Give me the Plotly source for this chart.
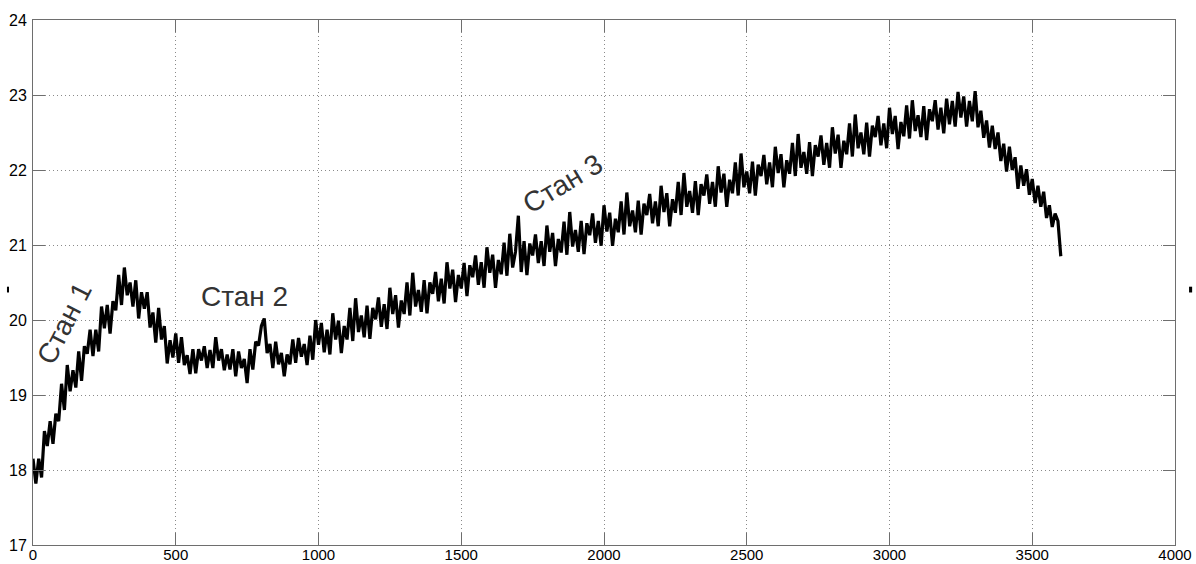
import plotly.graph_objects as go

# time axis (samples every 10 units)
TIME = list(range(0, 3610, 10))

# temperature readings
TEMP = [
    18.15, 17.82, 18.15, 17.90, 18.52, 18.32, 18.65, 18.35, 18.75, 18.65,
    19.15, 18.80, 19.40, 19.05, 19.33, 19.10, 19.58, 19.19, 19.65, 19.55,
    19.87, 19.52, 19.87, 19.58, 20.18, 19.89, 20.20, 19.82, 20.25, 20.13,
    20.60, 20.20, 20.70, 20.33, 20.50, 20.18, 20.53, 20.02, 20.37, 20.15,
    20.37, 19.90, 20.10, 19.70, 20.16, 19.74, 19.92, 19.42, 19.73, 19.50,
    19.82, 19.43, 19.77, 19.40, 19.53, 19.28, 19.61, 19.29, 19.61, 19.46,
    19.65, 19.36, 19.60, 19.36, 19.77, 19.46, 19.61, 19.33, 19.54, 19.34,
    19.61, 19.25, 19.58, 19.36, 19.48, 19.16, 19.61, 19.34, 19.71, 19.66,
    19.92, 20.02, 19.56, 19.68, 19.36, 19.71, 19.41, 19.56, 19.25, 19.54,
    19.41, 19.74, 19.43, 19.76, 19.51, 19.68, 19.40, 19.79, 19.47, 20.00,
    19.67, 19.96, 19.57, 19.87, 19.54, 20.09, 19.74, 19.99, 19.56, 19.92,
    19.74, 20.16, 19.72, 20.29, 19.84, 20.06, 19.77, 20.19, 19.75, 20.16,
    20.01, 20.30, 19.91, 20.21, 19.88, 20.43, 20.08, 20.33, 19.90, 20.26,
    20.08, 20.50, 20.06, 20.63, 20.18, 20.40, 20.11, 20.53, 20.09, 20.50,
    20.35, 20.64, 20.25, 20.55, 20.22, 20.77, 20.42, 20.67, 20.24, 20.60,
    20.42, 20.76, 20.32, 20.73, 20.57, 20.86, 20.47, 20.77, 20.43, 20.97,
    20.63, 20.87, 20.43, 20.80, 20.61, 21.03, 20.59, 21.15, 20.70, 20.91,
    21.39, 20.64, 21.05, 20.60, 21.02, 20.86, 21.14, 20.76, 21.05, 20.72,
    21.26, 20.91, 21.16, 20.72, 21.08, 20.90, 21.31, 20.87, 21.44, 20.98,
    21.20, 20.91, 21.32, 20.88, 21.29, 21.13, 21.42, 21.03, 21.32, 20.99,
    21.53, 21.18, 21.43, 20.99, 21.35, 21.17, 21.58, 21.14, 21.70, 21.25,
    21.46, 21.17, 21.59, 21.14, 21.55, 21.40, 21.68, 21.29, 21.58, 21.25,
    21.79, 21.44, 21.69, 21.25, 21.61, 21.43, 21.84, 21.40, 21.96, 21.51,
    21.72, 21.43, 21.85, 21.40, 21.81, 21.66, 21.94, 21.55, 21.84, 21.51,
    22.05, 21.70, 21.95, 21.51, 21.87, 21.69, 22.10, 21.66, 22.22, 21.77,
    21.98, 21.69, 22.11, 21.66, 22.07, 21.92, 22.20, 21.81, 22.10, 21.77,
    22.31, 21.96, 22.21, 21.77, 22.13, 21.95, 22.36, 21.92, 22.48, 22.03,
    22.24, 21.95, 22.37, 21.92, 22.33, 22.18, 22.46, 22.07, 22.36, 22.03,
    22.57, 22.22, 22.47, 22.03, 22.39, 22.21, 22.62, 22.18, 22.74, 22.29,
    22.50, 22.21, 22.63, 22.18, 22.59, 22.44, 22.72, 22.33, 22.62, 22.29,
    22.83, 22.48, 22.72, 22.28, 22.64, 22.45, 22.86, 22.42, 22.93, 22.52,
    22.73, 22.44, 22.85, 22.40, 22.81, 22.65, 22.93, 22.54, 22.83, 22.49,
    22.95, 22.61, 22.92, 22.58, 23.04, 22.70, 22.98, 22.58, 22.92, 22.65,
    23.05, 22.57, 22.79, 22.43, 22.66, 22.30, 22.59, 22.28, 22.50, 22.12,
    22.35, 21.98, 22.31, 22.00, 22.17, 21.75, 22.06, 21.79, 22.01, 21.67,
    21.88, 21.56, 21.79, 21.51, 21.71, 21.36, 21.53, 21.24, 21.42, 21.32,
    20.85,
]

X_TICKS = [0, 500, 1000, 1500, 2000, 2500, 3000, 3500, 4000]
Y_TICKS = [17, 18, 19, 20, 21, 22, 23, 24]

LABELS = ["Стан 1", "Стан 2", "Стан 3"]
LABEL_X = [110, 740, 1856]
LABEL_Y = [19.95, 20.31, 21.82]
LABEL_ANGLE = [-63, 0, -31]

fig = go.Figure()
fig.add_trace(go.Scatter(
    x=TIME, y=TEMP, mode="lines",
    line=dict(color="black", width=3.2),
    showlegend=False, hoverinfo="skip",
))

for t, lx, ly, a in zip(LABELS, LABEL_X, LABEL_Y, LABEL_ANGLE):
    fig.add_annotation(x=lx, y=ly, text=t, showarrow=False, textangle=a,
                       font=dict(family="Liberation Sans, Arial", size=28, color="#333333"))

axis_common = dict(
    showgrid=True, gridcolor="#8a8a8a", griddash="1px,3px", gridwidth=1,
    showline=True, linecolor="#6e6e6e", linewidth=1, mirror="ticks",
    ticks="inside", ticklen=12, tickcolor="#6e6e6e", tickwidth=1,
    zeroline=False, automargin=False,
)

fig.update_xaxes(range=[0, 4000], tickvals=X_TICKS, ticklabelstandoff=-4,
                 tickfont=dict(family="Liberation Sans, Arial", size=15, color="black"),
                 **axis_common)
fig.update_yaxes(range=[17, 24], tickvals=Y_TICKS, ticklabelstandoff=2,
                 tickfont=dict(family="Liberation Sans, Arial", size=16, color="black"),
                 **axis_common)

# small marks outside the plot area
fig.add_shape(type="rect", xref="paper", yref="paper",
              x0=-0.0228, x1=-0.0210, y0=0.481, y1=0.492,
              fillcolor="black", line=dict(width=0))
fig.add_shape(type="rect", xref="paper", yref="paper",
              x0=1.0123, x1=1.0150, y0=0.481, y1=0.492,
              fillcolor="black", line=dict(width=0))

fig.update_layout(
    width=1196, height=564,
    margin=dict(l=33, r=21, t=20, b=19),
    paper_bgcolor="white", plot_bgcolor="white",
)

fig.write_html("out.html")
